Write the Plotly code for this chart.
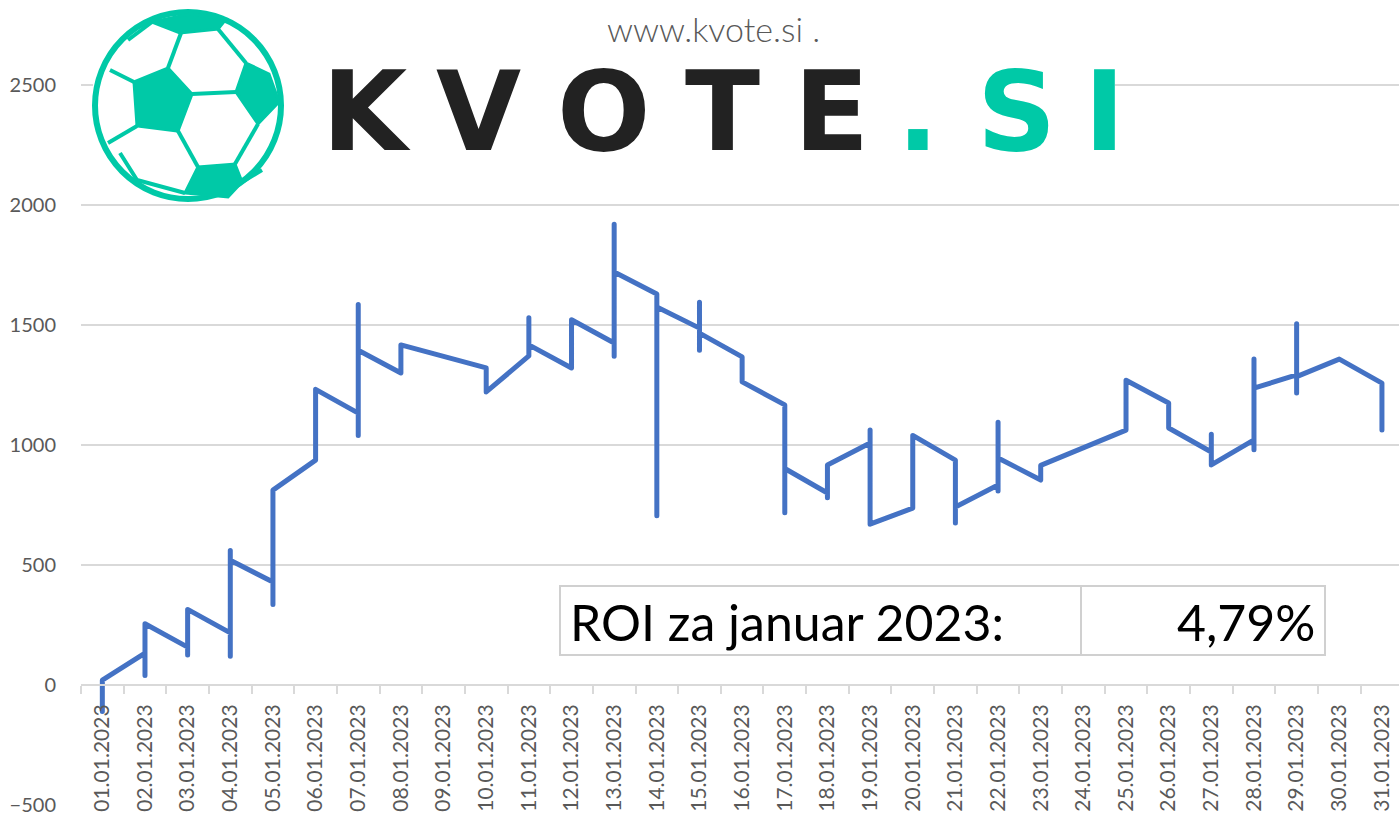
import plotly.graph_objects as go

# ---------------- data ----------------
dates = ["01.01.2023", "02.01.2023", "03.01.2023", "04.01.2023", "05.01.2023",
         "06.01.2023", "07.01.2023", "08.01.2023", "09.01.2023", "10.01.2023",
         "11.01.2023", "12.01.2023", "13.01.2023", "14.01.2023", "15.01.2023",
         "16.01.2023", "17.01.2023", "18.01.2023", "19.01.2023", "20.01.2023",
         "21.01.2023", "22.01.2023", "23.01.2023", "24.01.2023", "25.01.2023",
         "26.01.2023", "27.01.2023", "28.01.2023", "29.01.2023", "30.01.2023",
         "31.01.2023"]

# day of month of each recorded point (several bets per day)
point_day = [1, 1,
             2, 2, 2,
             3, 3, 3,
             4, 4, 4, 4,
             5, 5, 5,
             6, 6,
             7, 7, 7, 7,
             8, 8,
             10, 10,
             11, 11, 11,
             12, 12,
             13, 13, 13, 13,
             14, 14, 14,
             15, 15, 15, 15,
             16, 16,
             17, 17, 17,
             18, 18, 18,
             19, 19, 19,
             20, 20,
             21, 21, 21,
             22, 22, 22, 22,
             23, 23,
             25, 25,
             26, 26,
             27, 27, 27,
             28, 28, 28, 28,
             29, 29, 29, 29,
             30,
             31, 31]

# cumulative profit after each point
cum_profit = [-110, 20,
              133, 40, 255,
              158, 125, 315,
              217, 120, 560, 520,
              429, 335, 812,
              937, 1232,
              1133, 1040, 1585, 1395,
              1300, 1417,
              1321, 1221,
              1371, 1530, 1417,
              1321, 1522,
              1425, 1370, 1920, 1721,
              1629, 705, 1575,
              1487, 1395, 1595, 1466,
              1367, 1263,
              1167, 718, 902,
              800, 780, 917,
              1008, 1062, 670,
              737, 1040,
              937, 675, 742,
              833, 808, 1095, 946,
              854, 915,
              1062, 1270,
              1175, 1071,
              971, 1045, 917,
              1021, 980, 1358, 1237,
              1292, 1217, 1505, 1285,
              1358,
              1258, 1062]

y_ticks = [-500, 0, 500, 1000, 1500, 2000, 2500]
title_text = "www.kvote.si ."
roi_label = "ROI za januar 2023:"
roi_value = "4,79%"

# ---------------- layout helpers ----------------
W, H = 1399, 816
L, R, T, B = 81, 0, 0, 11
PW, PH = W - L - R, H - T - B


def px(x):
    return (x - L) / PW


def py(y):
    return (H - B - y) / PH


Y0, Y1 = -500, -500 + PH / 0.24

x_vals = [dates[d - 1] for d in point_day]

fig = go.Figure()
fig.add_trace(go.Scatter(
    x=x_vals, y=cum_profit, mode="lines",
    line=dict(color="#4472C4", width=5),
    hoverinfo="x+y", showlegend=False,
))

GRID = "#d9d9d9"
TXT = "#595959"

fig.update_layout(
    width=W, height=H,
    margin=dict(l=L, r=R, t=T, b=B, pad=0),
    paper_bgcolor="white", plot_bgcolor="white",
    font=dict(family="Lato", color=TXT),
    xaxis=dict(
        type="category", categoryorder="array", categoryarray=dates,
        range=[-0.5, 30.4], anchor="free", position=py(685),
        showgrid=False, zeroline=False,
        showline=True, linecolor=GRID, linewidth=2,
        ticks="outside", tickson="boundaries", ticklen=8, tickwidth=2,
        tickcolor=GRID, tickangle=-90,
        tickfont=dict(family="Lato", size=21, color=TXT),
        ticklabelstandoff=10,
    ),
    yaxis=dict(
        range=[Y0, Y1], tickvals=y_ticks,
        showgrid=True, gridcolor=GRID, gridwidth=2,
        zeroline=False, showline=False, ticks="",
        tickfont=dict(family="Lato", size=20, color=TXT),
        ticklabelstandoff=24,
    ),
)

shapes = []
annotations = []

# white logo background covering the top gridline
shapes.append(dict(type="rect", xref="paper", yref="paper",
                   x0=px(93), x1=px(1115), y0=py(200), y1=py(8),
                   fillcolor="white", line=dict(width=0), layer="above"))

TEAL = "#00C9A7"
# soccer ball
shapes.append(dict(type="circle", xref="paper", yref="paper",
                   x0=px(95), x1=px(281), y0=py(199), y1=py(12),
                   line=dict(color=TEAL, width=6), fillcolor="white", layer="above"))


def poly(pts, fill=True, width=3):
    d = "M " + " L ".join(f"{px(a):.5f},{py(b):.5f}" for a, b in pts)
    if fill:
        d += " Z"
    return dict(type="path", xref="paper", yref="paper", path=d,
                fillcolor=TEAL if fill else None,
                line=dict(color=TEAL, width=width), layer="above")


shapes.append(poly([(134, 82), (168, 68), (192, 94), (178, 131), (137, 126)]))
shapes.append(poly([(246, 63), (269, 74), (279, 102), (258, 124), (236, 92)]))
shapes.append(poly([(152, 22), (180, 33), (218, 29), (226, 19), (190, 14)]))
shapes.append(poly([(198, 167), (235, 164), (242, 182), (228, 197), (185, 193)]))
for seg in [
    [(168, 68), (181, 33)],
    [(192, 94), (236, 92)],
    [(178, 131), (198, 167)],
    [(137, 126), (108, 143)],
    [(134, 82), (110, 70)],
    [(218, 29), (246, 63)],
    [(258, 124), (235, 164)],
    [(120, 153), (137, 180), (185, 193)],
    [(152, 22), (128, 40)],
    [(242, 182), (262, 170)],
]:
    shapes.append(poly(seg, fill=False, width=4))

# logo letters
for ch, cx, col in [("K", 366, "#222222"), ("V", 478, "#222222"), ("O", 604, "#222222"),
                    ("T", 722, "#222222"), ("E", 831, "#222222"),
                    (".", 918, TEAL), ("S", 1016, TEAL), ("I", 1104, TEAL)]:
    annotations.append(dict(text=ch, xref="paper", yref="paper", x=px(cx), y=py(112),
                            xanchor="center", yanchor="middle", showarrow=False,
                            font=dict(family="DejaVu Sans", size=110, color=col, weight="bold")))

# title line
annotations.append(dict(text=title_text, xref="paper", yref="paper", x=px(713), y=py(28),
                        xanchor="center", yanchor="middle", showarrow=False,
                        font=dict(family="Lato", size=34, color=TXT, weight=300)))

# ROI table
shapes.append(dict(type="rect", xref="paper", yref="paper",
                   x0=px(560), x1=px(1325), y0=py(655), y1=py(586),
                   fillcolor="white", line=dict(color="#d0d0d0", width=2), layer="above"))
shapes.append(dict(type="line", xref="paper", yref="paper",
                   x0=px(1081), x1=px(1081), y0=py(655), y1=py(586),
                   line=dict(color="#d0d0d0", width=2), layer="above"))
annotations.append(dict(text=roi_label, xref="paper", yref="paper", x=px(568), y=py(622),
                        xanchor="left", yanchor="middle", showarrow=False,
                        font=dict(family="Lato", size=50, color="black")))
annotations.append(dict(text=roi_value, xref="paper", yref="paper", x=px(1317), y=py(622),
                        xanchor="right", yanchor="middle", showarrow=False,
                        font=dict(family="Lato", size=50, color="black")))

fig.update_layout(shapes=shapes, annotations=annotations)

post = ("document.body.style.margin='0';document.body.style.overflow='hidden';"
        "document.querySelectorAll('.scatterlayer path.js-line').forEach(function(p){"
        "p.style.strokeLinejoin='round';p.style.strokeLinecap='round';});")
fig.write_html("out.html", post_script=post, config={"displayModeBar": False})
